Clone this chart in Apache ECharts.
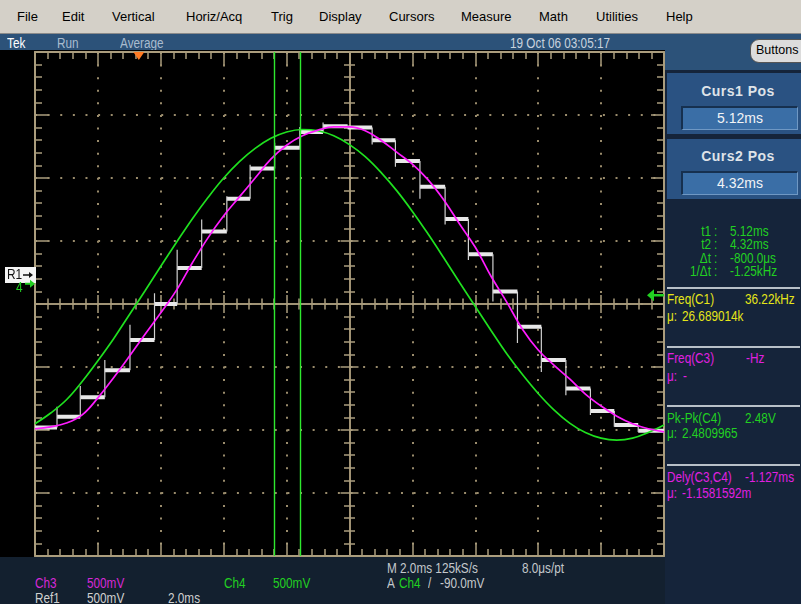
<!DOCTYPE html>
<html><head><meta charset="utf-8">
<script src="https://cdn.jsdelivr.net/npm/echarts@6.0.0/dist/echarts.min.js"></script>
<style>
html,body{margin:0;padding:0;}
body{width:801px;height:604px;overflow:hidden;position:relative;background:#13202f;font-family:'Liberation Sans',sans-serif;}
.t{position:absolute;white-space:nowrap;font-size:14px;line-height:16px;transform:scaleX(0.84);transform-origin:0 0;}
.r{transform-origin:100% 0;text-align:right;}
#menu{position:absolute;left:0;top:0;width:801px;height:33px;background:#d4d0c8;border-bottom:1px solid #8a8a8a;}
#menu span{position:absolute;top:9px;font-size:13px;color:#000;}
#status{position:absolute;left:0;top:34px;width:801px;height:16px;background:#2c5279;}
#rtop{position:absolute;left:665px;top:50px;width:136px;height:20px;background:#2c5279;}
#scope{position:absolute;left:0;top:50px;width:665px;height:507px;background:#000;}
#rpanel{position:absolute;left:665px;top:70px;width:136px;height:534px;background:#15243a;}
.box{position:absolute;left:667px;width:134px;background:#2a5282;}
.box .ttl{position:absolute;left:0;width:142px;text-align:center;font-weight:bold;font-size:14px;color:#dfe3e8;letter-spacing:0.5px;}
.box .val{position:absolute;left:14px;width:114px;height:21px;background:#3a6ea6;border-top:2px solid #16304f;border-left:2px solid #16304f;border-bottom:1px solid #6f98c4;border-right:1px solid #6f98c4;text-align:center;font-size:14px;line-height:21px;color:#f2f4f6;}
.sep{position:absolute;left:667px;width:133px;height:2px;background:#b8c0c8;}
#chart{position:absolute;left:0;top:0;width:801px;height:604px;}
</style></head>
<body>
<div id="menu">
<span style="left:17px">File</span><span style="left:62px">Edit</span><span style="left:112px">Vertical</span><span style="left:186px">Horiz/Acq</span><span style="left:271px">Trig</span><span style="left:319px">Display</span><span style="left:389px">Cursors</span><span style="left:461px">Measure</span><span style="left:539px">Math</span><span style="left:596px">Utilities</span><span style="left:666px">Help</span>
</div>
<div id="status"></div>
<div id="rtop"></div>
<div class="t" style="left:7px;top:35px;color:#ffffff">Tek</div>
<div class="t" style="left:57px;top:35px;color:#a9bccf">Run</div>
<div class="t" style="left:120px;top:35px;color:#a9bccf">Average</div>
<div class="t" style="left:510px;top:35px;color:#c9d3de">19 Oct 06 03:05:17</div>
<div style="position:absolute;left:750px;top:39px;width:62px;height:22px;border-radius:9px;background:#dcdcdc;border:1px solid #555;"></div>
<div style="position:absolute;left:756px;top:42px;font-size:12.5px;line-height:16px;color:#000">Buttons</div>
<div id="scope"></div>
<div id="rpanel"></div>
<div class="box" style="top:73px;height:61px;"><div class="ttl" style="top:10px">Curs1 Pos</div><div class="val" style="top:33px">5.12ms</div></div>
<div class="box" style="top:139px;height:60px;"><div class="ttl" style="top:9px">Curs2 Pos</div><div class="val" style="top:32px">4.32ms</div></div>

<div class="t r" style="left:660px;width:51px;top:223px;color:#22d022">t1</div><div class="t" style="left:714px;top:223px;color:#22d022">:</div><div class="t" style="left:730px;top:223px;color:#22d022">5.12ms</div>
<div class="t r" style="left:660px;width:51px;top:236px;color:#22d022">t2</div><div class="t" style="left:714px;top:236px;color:#22d022">:</div><div class="t" style="left:730px;top:236px;color:#22d022">4.32ms</div>
<div class="t r" style="left:660px;width:51px;top:250px;color:#22d022">Δt</div><div class="t" style="left:714px;top:250px;color:#22d022">:</div><div class="t" style="left:730px;top:250px;color:#22d022">-800.0μs</div>
<div class="t r" style="left:660px;width:51px;top:263px;color:#22d022">1/Δt</div><div class="t" style="left:714px;top:263px;color:#22d022">:</div><div class="t" style="left:730px;top:263px;color:#22d022">-1.25kHz</div>
<div class="sep" style="top:287px"></div>
<div class="t" style="left:667px;top:291px;color:#e6e619">Freq(C1)</div><div class="t" style="left:745px;top:291px;color:#e6e619">36.22kHz</div>
<div class="t" style="left:667px;top:308px;color:#e6e619">μ:</div><div class="t" style="left:682px;top:308px;color:#e6e619">26.689014k</div>
<div class="sep" style="top:346px"></div>
<div class="t" style="left:667px;top:350px;color:#e020e0">Freq(C3)</div><div class="t" style="left:746px;top:350px;color:#e020e0">-Hz</div>
<div class="t" style="left:667px;top:368px;color:#e020e0">μ:</div><div class="t" style="left:683px;top:368px;color:#e020e0">-</div>
<div class="sep" style="top:405px"></div>
<div class="t" style="left:667px;top:410px;color:#22d022">Pk-Pk(C4)</div><div class="t" style="left:745px;top:410px;color:#22d022">2.48V</div>
<div class="t" style="left:667px;top:425px;color:#22d022">μ:</div><div class="t" style="left:682px;top:425px;color:#22d022">2.4809965</div>
<div class="sep" style="top:464px"></div>
<div class="t" style="left:667px;top:469px;color:#e020e0">Dely(C3,C4)</div><div class="t" style="left:745px;top:469px;color:#e020e0">-1.127ms</div>
<div class="t" style="left:667px;top:485px;color:#e020e0">μ:</div><div class="t" style="left:682px;top:485px;color:#e020e0">-1.1581592m</div>

<div class="t" style="left:387px;top:560px;color:#c4c8cc">M 2.0ms 125kS/s</div>
<div class="t" style="left:522px;top:560px;color:#c4c8cc">8.0μs/pt</div>
<div class="t" style="left:35px;top:575px;color:#d628d6">Ch3</div>
<div class="t" style="left:87px;top:575px;color:#d628d6">500mV</div>
<div class="t" style="left:224px;top:575px;color:#22d022">Ch4</div>
<div class="t" style="left:273px;top:575px;color:#22d022">500mV</div>
<div class="t" style="left:387px;top:575px;color:#c4c8cc">A</div>
<div class="t" style="left:399px;top:575px;color:#22d022">Ch4</div>
<div class="t" style="left:428px;top:575px;color:#c4c8cc">/</div>
<div class="t" style="left:440px;top:575px;color:#c4c8cc">-90.0mV</div>
<div class="t" style="left:35px;top:590px;color:#d0d0d0">Ref1</div>
<div class="t" style="left:87px;top:590px;color:#d0d0d0">500mV</div>
<div class="t" style="left:168px;top:590px;color:#d0d0d0">2.0ms</div>

<div id="chart"></div>
<script>
// ---- data (x in graticule divisions from left edge, y in vertical divisions) ----
const xDiv = [0,0.25,0.5,0.75,1,1.25,1.5,1.75,2,2.25,2.5,2.75,3,3.25,3.5,3.75,4,4.25,4.5,4.75,5,
              5.25,5.5,5.75,6,6.25,6.5,6.75,7,7.25,7.5,7.75,8,8.25,8.5,8.75,9,9.25,9.5,9.75,10];
const ch4Div = [-1.90,-1.73,-1.52,-1.23,-0.90,-0.55,-0.17,0.21,0.60,0.98,1.35,1.69,2.00,2.26,2.47,2.63,2.73,2.77,2.75,2.67,2.53,
                2.34,2.09,1.80,1.47,1.11,0.73,0.34,-0.04,-0.42,-0.79,-1.12,-1.42,-1.68,-1.89,-2.04,-2.13,-2.16,-2.13,-2.04,-1.92];
const ch3Div = [-1.98,-1.95,-1.89,-1.76,-1.49,-1.17,-0.83,-0.48,-0.14,0.22,0.65,1.05,1.40,1.70,2.00,2.30,2.52,2.67,2.76,2.81,2.81,
                2.75,2.60,2.41,2.22,1.97,1.65,1.27,0.90,0.44,0.03,-0.40,-0.73,-0.97,-1.19,-1.43,-1.62,-1.78,-1.90,-1.98,-2.03];
const refEdges = [0,0.35,0.72,1.11,1.51,1.90,2.26,2.65,3.05,3.42,3.81,4.21,4.58,4.97,5.36,5.73,6.12,6.52,6.89,7.28,7.67,8.05,8.44,8.83,9.21,9.59,10];
const refLevels = [-1.96,-1.79,-1.48,-1.05,-0.57,0.00,0.57,1.15,1.67,2.15,2.48,2.73,2.82,2.80,2.60,2.27,1.86,1.35,0.79,0.20,-0.36,-0.89,-1.34,-1.70,-1.92,-2.01];
const refSpikes = [-1.63,-1.30,-0.89,-0.33,0.17,0.86,1.34,1.71,2.21,2.56,2.81,2.88,2.80,2.53,2.18,1.67,1.26,0.70,0.04,-0.62,-1.08,-1.45,-1.76,-1.95,-2.03];
const cursorMs = [5.12, 4.32];
const leftEdgeMs = -3.30;
const msPerDiv = 2;
const triggerMs = 0;
const ch4GroundDiv = 0.32;
const ref1OffsetDiv = 0.46;
const trigLevelDiv = 0.14;

const tan = '#ab9d7d';
const dotCol = '#9a8c6c';
const G = {left:35, top:52, width:629, height:504};

const flats = [];
refLevels.forEach((lv, i) => {
  flats.push([refEdges[i], lv], [refEdges[i+1], lv], [refEdges[i+1], '-']);
});
const edges = [];
refSpikes.forEach((sp, i) => {
  const e = refEdges[i+1];
  edges.push([e, refLevels[i]], [e, sp], [e, refLevels[i+1]], [e, '-']);
});
const toDiv = t => (t - leftEdgeMs) / msPerDiv;

const tickStyle = {color: tan, width: 1.5};
function borderX(pos, split) {
  return {gridIndex:0, type:'value', min:0, max:10, interval:1, position:pos,
    axisLine:{show:true, onZero:false, lineStyle:{color:tan, width:2}},
    axisTick:{show:true, inside:true, length:13, lineStyle:tickStyle},
    minorTick:{show:true, splitNumber:5, length:7, lineStyle:tickStyle},
    axisLabel:{show:false},
    splitLine:{show:split, lineStyle:{color:dotCol, width:2, type:[2,10.58]}}};
}
function borderY(pos, split) {
  return {gridIndex:0, type:'value', min:-4, max:4, interval:1, position:pos,
    axisLine:{show:true, onZero:false, lineStyle:{color:tan, width:2}},
    axisTick:{show:true, inside:true, length:13, lineStyle:tickStyle},
    minorTick:{show:true, splitNumber:5, length:7, lineStyle:tickStyle},
    axisLabel:{show:false},
    splitLine:{show:split, lineStyle:{color:dotCol, width:2, type:[2,10.62]}}};
}
function centerAxis(gi, isX, inside) {
  return {gridIndex:gi, type:'value', min:isX?-5:-4, max:isX?5:4, interval:1,
    axisLine:{show:true, onZero:true, lineStyle:{color:tan, width:1.5}},
    axisTick:{show:true, inside:inside, length:9, lineStyle:tickStyle},
    minorTick:{show:true, splitNumber:5, length:5.5, lineStyle:tickStyle},
    axisLabel:{show:false}, splitLine:{show:false}};
}

const chart = echarts.init(document.getElementById('chart'), null, {renderer:'canvas'});
chart.setOption({
  animation:false,
  backgroundColor:'transparent',
  grid:[Object.assign({}, G), Object.assign({}, G), Object.assign({}, G)],
  xAxis:[borderX('bottom', true), borderX('top', false), centerAxis(1, true, false), centerAxis(2, true, true)],
  yAxis:[borderY('left', true), borderY('right', false), centerAxis(1, false, false), centerAxis(2, false, true)],
  series:[
    {name:'Ref1', type:'line', xAxisIndex:0, yAxisIndex:0, data:flats, symbol:'none', silent:true,
     connectNulls:false, lineStyle:{color:'#e8e8e8', width:4}},
    {name:'Ref1 edges', type:'line', xAxisIndex:0, yAxisIndex:0, data:edges, symbol:'none', silent:true,
     connectNulls:false, lineStyle:{color:'#d0d0d0', width:1.2}},
    {name:'Ch4', type:'line', xAxisIndex:0, yAxisIndex:0, data:xDiv.map((x,i)=>[x, ch4Div[i]]),
     smooth:0.4, symbol:'none', silent:true, lineStyle:{color:'#1fe01f', width:1.7},
     markLine:{silent:true, symbol:'none', label:{show:false},
       lineStyle:{color:'#2ee82e', width:1.4, type:'solid'},
       data: cursorMs.map(t => ({xAxis: toDiv(t)}))},
     markPoint:{silent:true, label:{show:false},
       data:[{coord:[toDiv(triggerMs), 4], symbol:'triangle', symbolRotate:180, symbolSize:[11,8], symbolOffset:[0,4],
         itemStyle:{color:'#ff7a22'}}]}},
    {name:'Ch3', type:'line', xAxisIndex:0, yAxisIndex:0, data:xDiv.map((x,i)=>[x, ch3Div[i]]),
     smooth:0.4, symbol:'none', silent:true, lineStyle:{color:'#ff1cff', width:1.7}}
  ]
});

const yPix = v => chart.convertToPixel({xAxisIndex:0, yAxisIndex:0}, [0, v])[1];
const yR1 = yPix(ref1OffsetDiv), y4 = yPix(ch4GroundDiv), yT = yPix(trigLevelDiv);
const xR = chart.convertToPixel({xAxisIndex:0, yAxisIndex:0}, [10, 0])[0];
const fnt = '14px "Liberation Sans", sans-serif';
chart.setOption({graphic:[
  {type:'rect', shape:{x:5, y:yR1-8, width:31, height:16}, style:{fill:'#f4f4f4'}, z:50},
  {type:'text', x:7, y:yR1, scaleX:0.85, style:{text:'R1', fill:'#111', font:fnt, verticalAlign:'middle'}, z:51},
  {type:'polygon', shape:{points:[[23,yR1-0.8],[29,yR1-0.8],[29,yR1-3],[33,yR1],[29,yR1+3],[29,yR1+0.8],[23,yR1+0.8]]}, style:{fill:'#111'}, z:51},
  {type:'text', x:16, y:y4+4, scaleX:0.85, style:{text:'4', fill:'#22d022', font:fnt, verticalAlign:'middle'}, z:51},
  {type:'polygon', shape:{points:[[25,y4-1],[30,y4-1],[30,y4-4],[35,y4],[30,y4+4],[30,y4+1],[25,y4+1]]}, style:{fill:'#22d022'}, z:51},
  {type:'polygon', shape:{points:[[xR-17,yT],[xR-10,yT-6],[xR-10,yT-1.2],[xR,yT-1.2],[xR,yT+1.2],[xR-10,yT+1.2],[xR-10,yT+6]]}, style:{fill:'#22d022'}, z:51}
]});
</script>
</body></html>
